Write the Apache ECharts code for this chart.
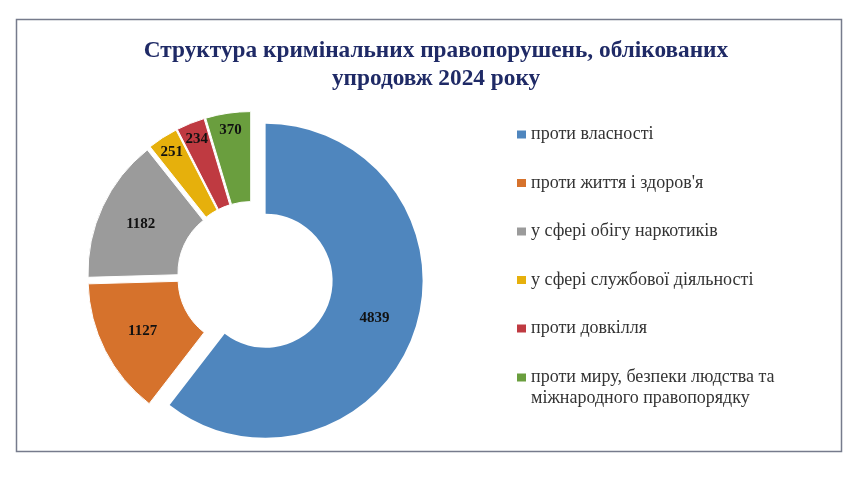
<!DOCTYPE html>
<html>
<head>
<meta charset="utf-8">
<script src="https://cdn.jsdelivr.net/npm/echarts@6/dist/echarts.min.js"></script>
<style>
html,body{margin:0;padding:0;background:#fff;}
#chart{width:860px;height:483px;}
</style>
</head>
<body>
<div id="chart"></div>
<script>
const titleText = 'Структура кримінальних правопорушень, облікованих\nупродовж 2024 року';
const categories = [
  'проти власності',
  "проти життя і здоров'я",
  'у сфері обігу наркотиків',
  'у сфері службової діяльності',
  'проти довкілля',
  'проти миру, безпеки людства та міжнародного правопорядку'
];
const values = [4839, 1127, 1182, 251, 234, 370];
const colors = ['#4F86BE', '#D6722C', '#9B9B9B', '#E6B00C', '#BF3A41', '#6A9E3E'];

const SERIF = '"Liberation Serif", "DejaVu Serif", serif';
const labelStyle = { fontFamily: SERIF, fontWeight: 'bold', fontSize: 15, color: '#111' };
const transparent = 'rgba(0,0,0,0)';

// main ring: every slice pulled out a little (blue drawn by its own series)
const mainData = categories.map((name, i) => ({
  name, value: values[i], selected: true,
  itemStyle: { color: i === 0 ? transparent : colors[i], borderColor: i === 0 ? transparent : '#fff', borderWidth: i === 0 ? 0 : 1 },
  label: { show: i === 1 || i === 2 }
}));
// blue slice pulled out further
const blueData = categories.map((name, i) => ({
  name, value: values[i], selected: i === 0,
  itemStyle: { color: i === 0 ? colors[0] : transparent, borderWidth: 0 },
  label: { show: i === 0 }
}));
// label carrier for the narrow slices (labels sit nearer the outer edge)
const smallLabelData = categories.map((name, i) => ({
  name, value: values[i], selected: true,
  itemStyle: { color: transparent, borderWidth: 0 },
  label: { show: i >= 3 }
}));

const legendNames = categories.slice(0, 5);
const lastName = categories[5];

const chart = echarts.init(document.getElementById('chart'), null, { renderer: 'canvas' });
chart.setOption({
  animation: false,
  backgroundColor: '#fff',
  title: {
    text: titleText,
    left: 436,
    top: 36.5,
    textAlign: 'center',
    padding: 0,
    textStyle: { fontFamily: SERIF, fontWeight: 'bold', fontSize: 23.3, lineHeight: 28, color: '#1F2A66' }
  },
  legend: [{
    orient: 'vertical',
    left: 512,
    top: 119,
    itemWidth: 9,
    itemHeight: 8,
    itemGap: 27.5,
    icon: 'rect',
    selectedMode: false,
    textStyle: { fontFamily: SERIF, fontSize: 18, lineHeight: 21, color: '#333' },
    data: legendNames.map((n) => ({ name: n, itemStyle: { color: colors[categories.indexOf(n)], borderWidth: 0 } }))
  }, {
    orient: 'vertical',
    left: 512,
    top: 341,
    itemWidth: 9,
    itemHeight: 8,
    icon: 'rect',
    selectedMode: false,
    formatter: () => '\nпроти миру, безпеки людства та\nміжнародного правопорядку',
    textStyle: { fontFamily: SERIF, fontSize: 18, lineHeight: 21, color: '#333' },
    data: [{ name: lastName, itemStyle: { color: colors[5], borderWidth: 0 } }]
  }],
  graphic: [{
    type: 'rect',
    shape: { x: 16.5, y: 19.5, width: 825, height: 432 },
    style: { fill: 'none', stroke: '#767B8C', lineWidth: 1.5 },
    silent: true,
    z: -1
  }],
  series: [{
    type: 'pie',
    center: [251.8, 276],
    radius: [67, 157],
    startAngle: 90,
    clockwise: true,
    selectedMode: 'multiple',
    selectedOffset: 7.5,
    avoidLabelOverlap: false,
    silent: true,
    label: Object.assign({ position: 'inside', formatter: '{c}' }, labelStyle),
    labelLine: { show: false },
    emphasis: { disabled: true },
    data: mainData
  }, {
    type: 'pie',
    center: [251.8, 276],
    radius: [67, 157],
    startAngle: 90,
    clockwise: true,
    selectedMode: 'multiple',
    selectedOffset: 14.6,
    avoidLabelOverlap: false,
    silent: true,
    label: Object.assign({ position: 'inside', formatter: '{c}' }, labelStyle),
    labelLine: { show: false },
    emphasis: { disabled: true },
    data: blueData
  }, {
    type: 'pie',
    center: [251.8, 276],
    radius: [117, 157],
    startAngle: 90,
    clockwise: true,
    selectedMode: 'multiple',
    selectedOffset: 7.5,
    avoidLabelOverlap: false,
    silent: true,
    label: Object.assign({ position: 'inside', formatter: '{c}' }, labelStyle),
    labelLine: { show: false },
    emphasis: { disabled: true },
    data: smallLabelData
  }]
});
</script>
</body>
</html>
